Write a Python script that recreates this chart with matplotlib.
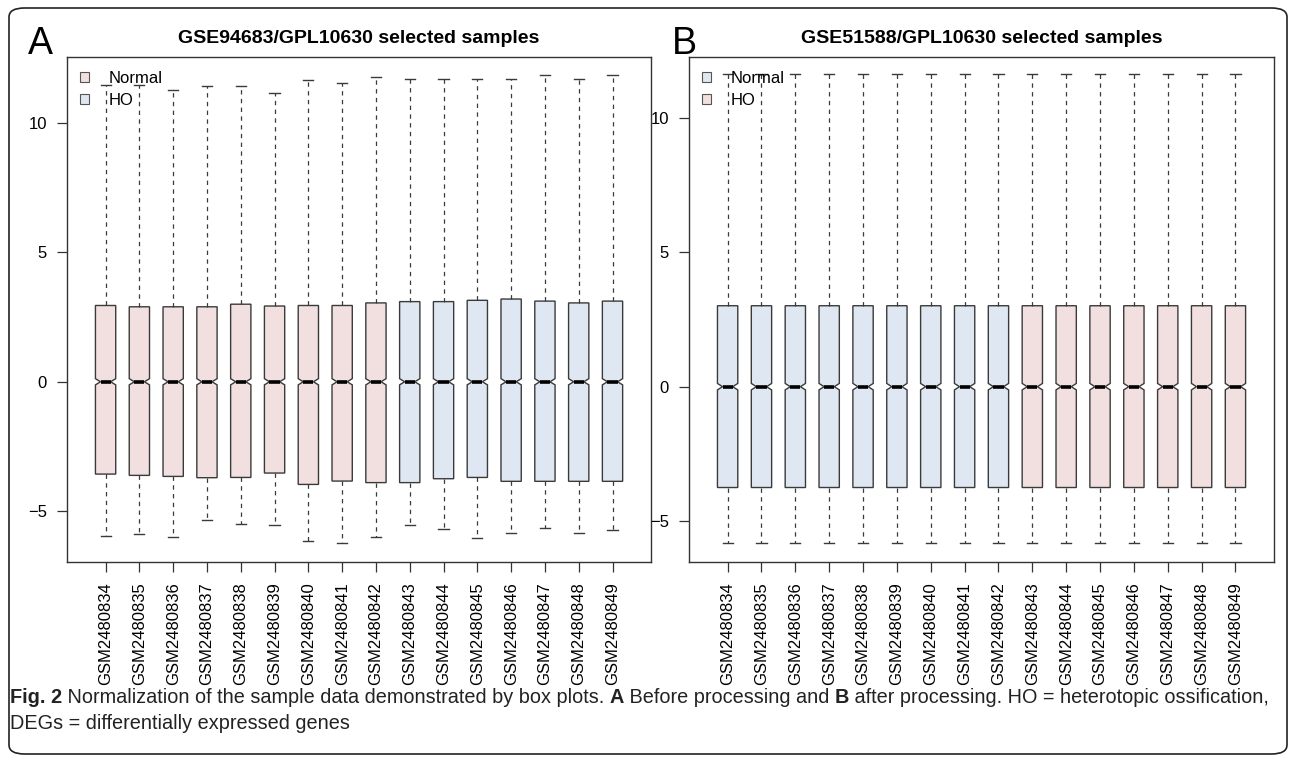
import matplotlib
matplotlib.use("Agg")
import matplotlib.pyplot as plt
from matplotlib.patches import Patch, FancyBboxPatch

# sample ids (same in both panels)
samples = ["GSM24808%d" % n for n in range(34, 50)]

# panel A: before normalisation
a_whishi = [11.48, 11.48, 11.29, 11.44, 11.44, 11.18, 11.67, 11.55,
            11.80, 11.70, 11.70, 11.70, 11.70, 11.88, 11.70, 11.85]
a_q3 = [2.95, 2.90, 2.90, 2.90, 3.00, 2.93, 2.95, 2.95,
        3.05, 3.10, 3.10, 3.15, 3.20, 3.12, 3.05, 3.12]
a_med = [0.0] * 16
a_q1 = [-3.57, -3.62, -3.66, -3.71, -3.70, -3.53, -3.97, -3.84,
        -3.90, -3.90, -3.75, -3.70, -3.85, -3.85, -3.85, -3.85]
a_whislo = [-5.95, -5.88, -6.02, -5.36, -5.49, -5.52, -6.17, -6.25,
            -6.00, -5.55, -5.70, -6.05, -5.85, -5.65, -5.85, -5.75]
a_groups = ["Normal"] * 9 + ["HO"] * 7

# panel B: after normalisation
b_whishi = [11.62] * 16
b_q3 = [3.01] * 16
b_med = [0.0] * 16
b_q1 = [-3.75] * 16
b_whislo = [-5.82] * 16
b_groups = ["Normal"] * 9 + ["HO"] * 7

notch_half = 0.12
pink = "#F2DFDF"
blue = "#DFE8F2"

plt.rcParams["font.family"] = ["Liberation Sans", "DejaVu Sans"]

fig = plt.figure(figsize=(12.92, 7.57), dpi=100)


def draw_panel(rect, title, whishi, q3, med, q1, whislo, groups, colors, ylim):
    ax = fig.add_axes(rect)
    stats = []
    for i in range(len(samples)):
        stats.append(dict(med=med[i], q1=q1[i], q3=q3[i], whislo=whislo[i],
                          whishi=whishi[i], cilo=med[i] - notch_half,
                          cihi=med[i] + notch_half, fliers=[]))
    bp = ax.bxp(stats, positions=range(1, len(samples) + 1), widths=0.6,
                shownotches=True, patch_artist=True, showfliers=False,
                boxprops=dict(edgecolor="#3a3a3a", linewidth=1.0),
                whiskerprops=dict(color="#3a3a3a", linewidth=0.9,
                                  linestyle=(0, (3.5, 3.5))),
                capprops=dict(color="#3a3a3a", linewidth=1.0),
                medianprops=dict(color="black", linewidth=2.6,
                                 solid_capstyle="butt"))
    for box, g in zip(bp["boxes"], groups):
        box.set_facecolor(colors[g])
    ax.set_xlim(0.5 - 0.64, len(samples) + 0.5 + 0.64)
    ax.set_ylim(*ylim)
    ax.set_yticks([-5, 0, 5, 10])
    ax.set_yticklabels(["\u22125", "0", "5", "10"])
    ax.set_xticks(range(1, len(samples) + 1))
    ax.set_xticklabels(samples, rotation=90, fontsize=12)
    ax.tick_params(axis="both", direction="out", length=7, width=0.9,
                   pad=7.5, labelsize=12, color="#333333")
    for s in ax.spines.values():
        s.set_color("#333333")
        s.set_linewidth(1.0)
    ax.set_title(title, fontsize=14, fontweight="bold", pad=10)
    handles = [Patch(facecolor=colors["Normal"], edgecolor="#555555", linewidth=0.8),
               Patch(facecolor=colors["HO"], edgecolor="#555555", linewidth=0.8)]
    ax.legend(handles, ["Normal", "HO"], loc="upper left", bbox_to_anchor=(0.01, 0.985),
              frameon=False, fontsize=12, handlelength=0.55, handleheight=0.55,
              handletextpad=1.2, labelspacing=0.4, borderpad=0.4, borderaxespad=0)
    return ax


axA = draw_panel([0.0519, 0.2576, 0.4520, 0.6671],
                 "GSE94683/GPL10630 selected samples",
                 a_whishi, a_q3, a_med, a_q1, a_whislo, a_groups,
                 {"Normal": pink, "HO": blue}, (-6.97, 12.56))
axB = draw_panel([0.5333, 0.2576, 0.4528, 0.6671],
                 "GSE51588/GPL10630 selected samples",
                 b_whishi, b_q3, b_med, b_q1, b_whislo, b_groups,
                 {"Normal": blue, "HO": pink}, (-6.52, 12.26))

fig.text(28 / 1292, 1 - 54 / 757, "A", fontsize=27, va="baseline")
fig.text(672 / 1292, 1 - 54 / 757, "B", fontsize=27, va="baseline")

# outer frame of the journal figure
frame = FancyBboxPatch((9 / 1292, 3 / 757), 1278 / 1292, 746 / 757,
                       boxstyle="round,pad=0,rounding_size=0.012",
                       transform=fig.transFigure, facecolor="none",
                       edgecolor="#222222", linewidth=1.2)
fig.patches.append(frame)

# caption with mixed bold / regular runs
cap_font = ["Liberation Sans Narrow", "Liberation Sans", "DejaVu Sans"]
renderer = fig.canvas.get_renderer()
line1 = [("Fig. 2", "bold"),
         (" Normalization of the sample data demonstrated by box plots. ", "normal"),
         ("A", "bold"), (" Before processing and ", "normal"),
         ("B", "bold"), (" after processing. HO = heterotopic ossification,", "normal")]
x = 10 / 1292
y1 = 1 - 703 / 757
for txt, w in line1:
    t = fig.text(x, y1, txt, fontsize=14.3, fontweight=w, family=cap_font,
                 va="baseline", color="#222222")
    bb = t.get_window_extent(renderer=renderer)
    x += bb.width / fig.bbox.width
fig.text(10 / 1292, 1 - 729 / 757, "DEGs = differentially expressed genes",
         fontsize=14.3, family=cap_font, va="baseline", color="#222222")

fig.savefig("out.png", dpi=100)
